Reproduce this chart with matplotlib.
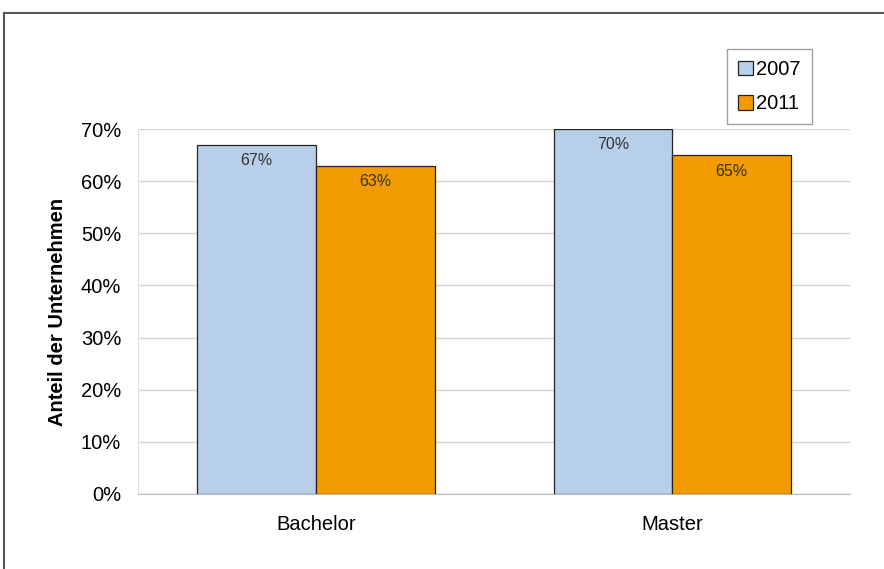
import matplotlib.pyplot as plt
from matplotlib.lines import Line2D
import numpy as np

categories = ['Bachelor', 'Master']
series_names = ['2007', '2011']
values_2007 = [0.67, 0.70]
values_2011 = [0.63, 0.65]
yticks = [0.0, 0.1, 0.2, 0.3, 0.4, 0.5, 0.6, 0.7]

colors = ['#b7cfe8', '#f29b00']

plt.rcParams['font.family'] = ['Liberation Sans', 'DejaVu Sans']

fig = plt.figure(figsize=(8.84, 5.69), dpi=100)
ax = fig.add_axes([0.156, 0.132, 0.806, 0.641])

x = np.arange(len(categories))
width = 0.333

for i, (vals, name) in enumerate(zip([values_2007, values_2011], series_names)):
    pos = x + (i - 0.5) * width
    bars = ax.bar(pos, vals, width, color=colors[i], edgecolor='#222222',
                  linewidth=0.9, label=name, zorder=3)
    for b, v in zip(bars, vals):
        ax.annotate(f'{v:.0%}', (b.get_x() + b.get_width() / 2, v),
                    xytext=(0, -6), textcoords='offset points',
                    ha='center', va='top', fontsize=11.5, color='#333333', zorder=4)

ax.set_xlim(-0.5, 1.5)
ax.set_ylim(0, 0.7)
ax.set_yticks(yticks)
ax.set_yticklabels([f'{t:.0%}' for t in yticks], fontsize=14.5)
ax.set_xticks(x)
ax.set_xticklabels(categories, fontsize=14.5)
ax.tick_params(axis='y', length=0, pad=12)
ax.tick_params(axis='x', length=0, pad=15)
ax.set_ylabel('Anteil der Unternehmen', fontsize=14.5, fontweight='bold', labelpad=10)

ax.grid(axis='y', color='#d4d4d4', linewidth=1, zorder=0)
for side in ['top', 'right']:
    ax.spines[side].set_visible(False)
ax.spines['left'].set_color('#dddddd')
ax.spines['bottom'].set_color('#bbbbbb')

leg = ax.legend(loc='upper left', bbox_to_anchor=(727 / 884, 1 - 49 / 569),
                bbox_transform=fig.transFigure, fontsize=14.5,
                frameon=True, fancybox=False, edgecolor='#888888',
                handlelength=0.75, handleheight=0.75, handletextpad=0.15,
                borderpad=0.55, labelspacing=0.75, borderaxespad=0)
leg.get_frame().set_linewidth(1.0)
for h in leg.legend_handles:
    h.set_edgecolor('#222222')

# outer frame
fig.add_artist(Line2D([4 / 884, 4 / 884], [0, 1 - 13 / 569], color='#555555', linewidth=1.5))
fig.add_artist(Line2D([4 / 884, 1], [1 - 13 / 569, 1 - 13 / 569], color='#555555', linewidth=1.5))

fig.savefig('out.png', dpi=100)
